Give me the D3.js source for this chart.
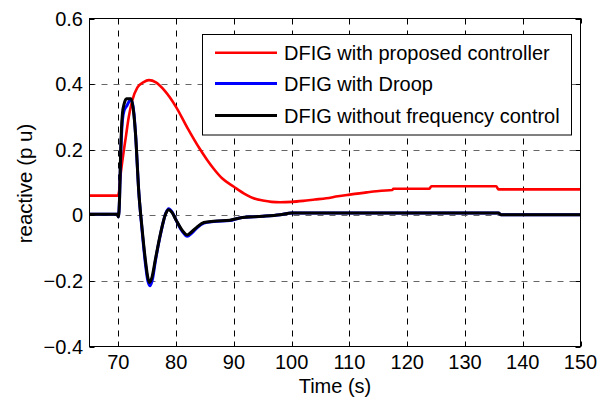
<!DOCTYPE html>
<html><head><meta charset="utf-8">
<script src="https://cdn.jsdelivr.net/npm/d3@7"></script>
<style>
body{margin:0;background:#fff;}
text{font-family:Arial,"Liberation Sans",sans-serif;fill:#000;}
</style></head>
<body><svg id="c" width="611" height="405"></svg>
<script>
const xTicks=[70,80,90,100,110,120,130,140,150];
const yTicks=[-0.4,-0.2,0,0.2,0.4,0.6];
const seriesNames=["DFIG with proposed controller","DFIG with Droop","DFIG without frequency control"];
const seriesColors=["#ff0000","#0000ff","#000000"];

const redT=[65,69.9,70.1,70.3,70.8,71.3,71.8,72.4,73.3,74.3,75.3,76.5,78,80,82,84,85.4,86.5,88,90,92,93.4,95,96.5,98,100,102,104,106,108,110,113,115.5,117.4,117.6,123.8,124.2,135.4,135.8,150];
const redV=[0.06,0.06,0.07,0.11,0.18,0.24,0.3,0.35,0.39,0.405,0.412,0.405,0.38,0.33,0.265,0.205,0.168,0.142,0.112,0.087,0.064,0.052,0.045,0.041,0.04,0.041,0.044,0.048,0.052,0.058,0.063,0.07,0.075,0.077,0.081,0.081,0.0885,0.0885,0.079,0.079];

const blueT=[65,69.8,70,70.2,70.4,70.7,71.0,71.5,72.0,72.3,72.7,73.0,73.5,74.1,74.7,75.1,75.5,75.9,76.4,77.3,78.2,78.7,79.3,80,81.1,81.9,82.7,83.6,84.8,86.5,89.3,91,95,98,100,135.8,136.2,150];
const blueV=[0.003,0.003,-0.005,0.05,0.18,0.29,0.32,0.335,0.35,0.35,0.31,0.24,0.08,-0.045,-0.15,-0.2,-0.215,-0.195,-0.14,-0.057,0.006,0.02,0.01,-0.015,-0.05,-0.064,-0.054,-0.038,-0.024,-0.019,-0.016,-0.008,-0.003,0.002,0.007,0.007,0.002,0.002];

const blackT=[65,69.8,70,70.2,70.4,70.7,71.0,71.4,72.2,72.6,73.0,73.5,74.1,74.7,75.1,75.4,75.8,76.4,77.3,78.2,78.7,79.3,80,81.1,81.9,82.7,83.6,84.8,86.5,89.3,91,95,98,100,135.8,136.2,150];
const blackV=[0.003,0.003,-0.005,0.05,0.2,0.31,0.34,0.355,0.355,0.32,0.24,0.08,-0.04,-0.14,-0.19,-0.205,-0.19,-0.135,-0.055,0.005,0.017,0.008,-0.015,-0.047,-0.06,-0.05,-0.036,-0.022,-0.018,-0.015,-0.008,-0.003,0.002,0.007,0.007,0.002,0.002];

const svg=d3.select("#c");
const L=89.5,R=580.5,T=18.5,B=346.5;
const x=d3.scaleLinear().domain([65,150]).range([L,R]);
const y=d3.scaleLinear().domain([-0.4,0.6]).range([B,T]);
const FS=20;

// grid
const g=svg.append("g");
g.selectAll(".vg").data(xTicks.filter(t=>t<150)).enter().append("line")
 .attr("x1",d=>Math.round(x(d))+0.5).attr("x2",d=>Math.round(x(d))+0.5).attr("y1",T).attr("y2",B)
 .attr("stroke","#000").attr("stroke-width",1).attr("stroke-dasharray","6,6");
g.selectAll(".hg").data(yTicks.filter(t=>t>-0.4&&t<0.6)).enter().append("line")
 .attr("x1",L).attr("x2",R).attr("y1",d=>Math.round(y(d))+0.5).attr("y2",d=>Math.round(y(d))+0.5)
 .attr("stroke","#666").attr("stroke-width",1).attr("stroke-dasharray","6,6");

// lines
const line=d3.line().x(d=>x(d[0])).y(d=>y(d[1])).curve(d3.curveMonotoneX);
const sets=[[redT,redV,2.6],[blueT,blueV,3],[blackT,blackV,3]];
sets.forEach((s,i)=>{
  svg.append("path").datum(s[0].map((t,k)=>[t,s[1][k]]))
   .attr("d",line).attr("fill","none").attr("stroke",seriesColors[i])
   .attr("stroke-width",s[2]).attr("stroke-linejoin","round");
});

// axes box
svg.append("rect").attr("x",L).attr("y",T).attr("width",R-L).attr("height",B-T)
 .attr("fill","none").attr("stroke","#000").attr("stroke-width",1);

// ticks inward, all four sides
const tl=5;
xTicks.forEach(t=>{
  const xx=Math.round(x(t))+0.5;
  svg.append("line").attr("x1",xx).attr("x2",xx).attr("y1",B).attr("y2",B-tl).attr("stroke","#000");
  svg.append("line").attr("x1",xx).attr("x2",xx).attr("y1",T).attr("y2",T+tl).attr("stroke","#000");
});
yTicks.forEach(t=>{
  const yy=Math.round(y(t))+0.5;
  svg.append("line").attr("x1",L).attr("x2",L+tl).attr("y1",yy).attr("y2",yy).attr("stroke","#000");
  svg.append("line").attr("x1",R).attr("x2",R-tl).attr("y1",yy).attr("y2",yy).attr("stroke","#000");
});

// tick labels
svg.selectAll(".xl").data(xTicks).enter().append("text")
 .attr("x",d=>x(d)).attr("y",369).attr("text-anchor","middle").attr("font-size",FS).text(d=>d);
svg.selectAll(".yl").data(yTicks).enter().append("text")
 .attr("x",83).attr("y",d=>y(d)+7).attr("text-anchor","end").attr("font-size",FS)
 .text(d=>d===0?"0":d3.format(".1f")(d));

// axis titles
svg.append("text").attr("x",(L+R)/2).attr("y",393).attr("text-anchor","middle").attr("font-size",FS).text("Time (s)");
svg.append("text").attr("transform","translate(32,"+((T+B)/2+1)+") rotate(-90)").attr("text-anchor","middle").attr("font-size",20.5).text("reactive (p u)");

// legend
const lg=svg.append("g");
lg.append("rect").attr("x",202.5).attr("y",34.5).attr("width",369).attr("height",100.5)
 .attr("fill","#fff").attr("stroke","#000").attr("stroke-width",1);
const rows=[52.7,83.5,115.5];
seriesNames.forEach((n,i)=>{
  lg.append("line").attr("x1",215).attr("x2",277).attr("y1",rows[i]).attr("y2",rows[i])
   .attr("stroke",seriesColors[i]).attr("stroke-width",i===0?2.6:3);
  lg.append("text").attr("x",284).attr("y",rows[i]+7).attr("font-size",FS).text(n);
});
</script></body></html>
